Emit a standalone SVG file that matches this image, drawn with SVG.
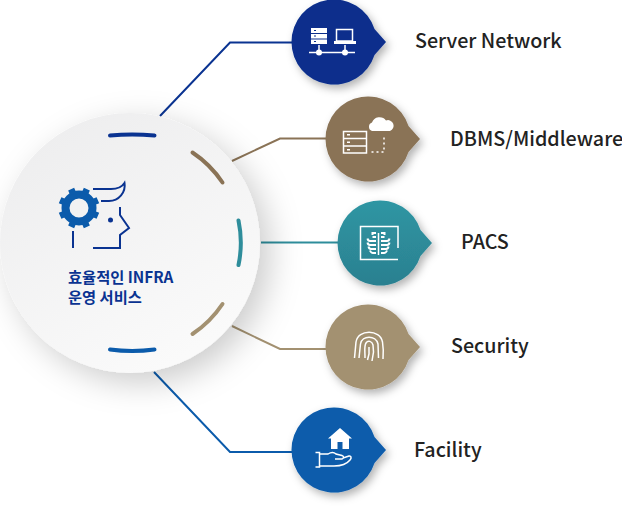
<svg xmlns="http://www.w3.org/2000/svg" width="622" height="511" viewBox="0 0 622 511">
<style>
text{font-family:"Noto Sans CJK KR","Noto Sans",sans-serif;font-weight:500}
.lab{font-size:19.700px;fill:#222}
.cap{font-size:15.300px;font-weight:700;fill:#0a3391}
.conn{fill:none;stroke-width:2}
.arc{fill:none;stroke-width:4;stroke-linecap:round}
.ic{fill:none;stroke:#fff;stroke-width:1.500}
.rib{fill:none;stroke:#fff;stroke-width:2}
.icf{fill:#fff}
</style>
<defs>
<filter id="big" x="-30%" y="-30%" width="170%" height="170%"><feDropShadow dx="10" dy="10" stdDeviation="16" flood-color="#000" flood-opacity=".2"/></filter>
<filter id="sm" x="-30%" y="-30%" width="170%" height="170%"><feDropShadow dx="3" dy="4" stdDeviation="4" flood-color="#000" flood-opacity=".3"/></filter>
<linearGradient id="bg" x1="0" y1="0" x2="0.6" y2="1"><stop offset="0" stop-color="#ececed"/><stop offset="1" stop-color="#fafafa"/></linearGradient>
<linearGradient id="teal" x1="0" y1="0" x2="0" y2="1"><stop offset="0" stop-color="#2f96a3"/><stop offset="1" stop-color="#2b8090"/></linearGradient>
<path id="bub" d="M-42.500 0A42.500 42.500 0 0 1 40.500 -13L52 0L40.500 13A42.500 42.500 0 0 1 -42.500 0Z"/>
</defs>
<g id="connectors">
<path class="conn" stroke="#0a3391" d="M160 116L230 42.500H295"/>
<path class="conn" stroke="#8a7356" d="M232 161L280 138.500H330"/>
<path class="conn" stroke="#2e8d9b" d="M261 242.500H340"/>
<path class="conn" stroke="#a39171" d="M232 326L280 349H330"/>
<path class="conn" stroke="#0b5bab" d="M154 372L230 452H295"/>
</g>
<g id="hub">
<circle cx="130" cy="243" r="130" fill="url(#bg)" filter="url(#big)"/>
<path class="arc" stroke="#0a3391" d="M110 135.500Q132 133.500 154.500 135.500"/>
<path class="arc" stroke="#8a7356" d="M192.500 152.500A108 108 0 0 1 222.500 182.500"/>
<path class="arc" stroke="#2e8d9b" d="M238.500 220.500A108 108 0 0 1 238.500 265"/>
<path class="arc" stroke="#a39171" d="M222.500 304A108 108 0 0 1 192.500 334"/>
<path class="arc" stroke="#0b5bab" d="M110 349.500Q132 352.500 154.500 349.500"/>
<g id="head">
<circle cx="79" cy="208" r="13.500" fill="none" stroke="#0b5bab" stroke-width="8"/>
<path stroke="#0b5bab" stroke-width="6.500" d="M71.150 189.100L73.300 194.100M86.850 189.100L84.700 194.100M97.900 200.150L92.900 202.300M97.900 215.850L92.900 213.700M86.850 226.900L84.700 221.900M71.150 226.900L73.300 221.900M60.100 215.850L65.100 213.700M60.100 200.150L65.100 202.300"/>
<path fill="none" stroke="#0a3391" stroke-width="2" d="M93 189H111C118 189 122 187 124.500 183C126 192 119 201 109 201H101M120 207V215L129 228L120 235V248H93M73 231V248"/>
<circle cx="110.500" cy="220" r="2.500" fill="#0a3391"/>
</g>
<text class="cap" x="68" y="283">효율적인 INFRA</text>
<text class="cap" x="68" y="303">운영 서비스</text>
</g>
<g id="server">
<use href="#bub" x="334" y="42" fill="#0a2f8c" filter="url(#sm)"/>
<path class="icf" d="M311 28H327V33H311ZM311 34H327V38.500H311ZM311 39.500H327V44H311Z"/>
<path fill="#0a2f8c" d="M314 30H316V31H314ZM314 35.500H316V36.500H314ZM314 41H316V42H314Z"/>
<rect class="ic" x="336.500" y="29.500" width="16" height="11.500"/>
<path class="icf" d="M334 41H356V44H334Z"/>
<path class="ic" d="M309 52.500H355M319 45V52M345 45V52"/>
<circle class="icf" cx="319" cy="52.500" r="3"/><circle class="icf" cx="345" cy="52.500" r="3"/>
<text class="lab" x="415" y="48">Server Network</text>
</g>
<g id="dbms">
<use href="#bub" x="368" y="139" fill="#8a7356" filter="url(#sm)"/>
<rect class="ic" x="343.500" y="131.500" width="23" height="21.500"/>
<path class="ic" d="M343.500 138.500H366.500M343.500 146H366.500"/>
<path class="icf" d="M347 134H350V135.500H347ZM347 141.500H350V143H347ZM347 149H350V150.500H347Z"/>
<path class="icf" d="M372 131A4.500 4.500 0 0 1 372 122.500 8 8 0 0 1 386 120.500 5.500 5.500 0 0 1 390 131Z"/>
<path class="ic" stroke-dasharray="2 3" d="M371.500 152H384V136"/>
<text class="lab" x="450" y="146">DBMS/Middleware</text>
</g>
<g id="pacs">
<use href="#bub" x="380" y="243" fill="url(#teal)" filter="url(#sm)"/>
<path class="ic" d="M398 248V226.500H360.500V259.500H398"/>
<path class="ic" d="M378.500 233V255"/>
<path class="rib" d="M376 233H372.500V235M376 237H372.500M376 241H370Q368 241 367.500 238.500M376 245H370Q368 245 367.500 242.500M376 249H371Q369 249 368.500 246.500M376 253H373Q371 253 370 250.500"/>
<path class="rib" d="M381 233H384.500V235M381 237H384.500M381 241H387Q389 241 389.500 238.500M381 245H387Q389 245 389.500 242.500M381 249H386Q388 249 388.500 246.500M381 253H384Q386 253 387 250.500"/>
<text class="lab" x="461" y="249">PACS</text>
</g>
<g id="security">
<use href="#bub" x="368" y="347" fill="#a39171" filter="url(#sm)"/>
<path class="ic" stroke-width="1.700" d="M354.500 358L356 342C358 329 380 329 382.500 342C383.500 348 383.500 353 383 359M359 358L360.500 344C362 335 376 335 378 344L378.500 358M365 358C365 350 364 346 366 343C368 340 372 341 373 345L373.500 352L372 361M369 347L369 354L367.500 360"/>
<text class="lab" x="451" y="353">Security</text>
</g>
<g id="facility">
<use href="#bub" x="334" y="450" fill="#0b5bab" filter="url(#sm)"/>
<path class="icf" fill-rule="evenodd" d="M340 428L352 438.500H349V449H331V438.500H328ZM337.500 442V449H342.500V442Z"/>
<path class="ic" d="M315.500 452.500H319.500V467H315.500M319.500 454H328C331 452 334 452 336 454L342 455.500C344 456 344 458.500 342 459L335 459M343 458L349 456C351 455.500 352 458 350 460C346 465 340 466 334 466H319.500"/>
<text class="lab" x="414" y="457">Facility</text>
</g>
</svg>
